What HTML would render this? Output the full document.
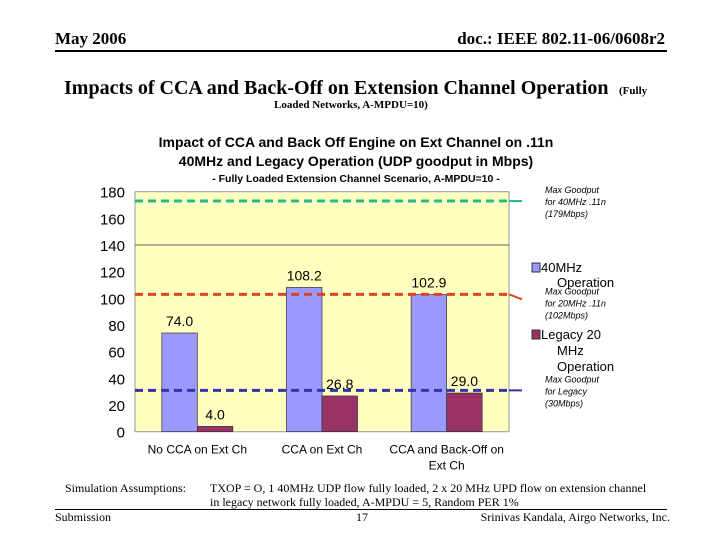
<!DOCTYPE html>
<html><head><meta charset="utf-8"><style>
body{margin:0;width:720px;height:540px;background:#fff;position:relative;overflow:hidden;font-family:"Liberation Serif",serif}
.a{position:absolute;white-space:nowrap}
</style></head><body>
<div class="a" style="left:55px;top:29px;font-size:17px;font-weight:bold">May 2006</div>
<div class="a" style="right:55px;top:29px;font-size:17px;font-weight:bold">doc.: IEEE 802.11-06/0608r2</div>
<div class="a" style="left:55px;top:50px;width:612px;height:2px;background:#000"></div>
<div class="a" style="left:64px;top:77px;font-size:20px;font-weight:bold">Impacts of CCA and Back-Off on Extension Channel Operation <span style="font-size:11px">&nbsp;&nbsp;(Fully</span></div>
<div class="a" style="left:274px;top:99px;font-size:11px;font-weight:bold">Loaded Networks, A-MPDU=10)</div>
<svg class="a" style="left:0;top:0" width="720" height="540" id="c"></svg>
<div class="a" style="left:65px;top:481px;font-size:12px">Simulation Assumptions:</div>
<div class="a" style="left:210px;top:481px;font-size:12px;line-height:14px">TXOP = O, 1 40MHz UDP flow fully loaded, 2 x 20 MHz UPD flow on extension channel<br>in legacy network fully loaded, A-MPDU = 5, Random PER 1%</div>
<div class="a" style="left:55px;top:509px;width:612px;height:1px;background:#000"></div>
<div class="a" style="left:55px;top:510px;font-size:12px">Submission</div>
<div class="a" style="left:356px;top:510px;font-size:12px">17</div>
<div class="a" style="right:50px;top:510px;font-size:12px">Srinivas Kandala, Airgo Networks, Inc.</div>
<script>
const categories=[["No CCA on Ext Ch"],["CCA on Ext Ch"],["CCA and Back-Off on","Ext Ch"]];
const s40=[74.0,108.2,102.9];
const sLeg=[4.0,26.8,29.0];
const yTicks=[0,20,40,60,80,100,120,140,160,180];
const refVals=[173,103,31];
const refColors=["#22bb88","#dd4422","#3333aa"];
const refLabels=[["Max Goodput","for 40MHz .11n","(179Mbps)"],["Max Goodput","for 20MHz .11n","(102Mbps)"],["Max Goodput","for Legacy","(30Mbps)"]];
const L=135,R=509,T=191.7,B=431.7,YMAX=180;
const y=v=>B-(B-T)*v/YMAX;
const cw=(R-L)/categories.length;
const x=i=>L+cw*(i+0.5);
const svg=document.getElementById('c');const NS="http://www.w3.org/2000/svg";
function mk(t,a,txt){const e=document.createElementNS(NS,t);for(const k in a)e.setAttribute(k,a[k]);if(txt!=null)e.textContent=txt;svg.appendChild(e);return e;}
const ff='"Liberation Sans",sans-serif';
let e;
e=mk('rect',{x:L,y:T,width:R-L,height:B-T,fill:'#ffffc0',stroke:'#999'});

e=mk('line',{x1:L,x2:R,y1:y(140),y2:y(140),stroke:'#666'});

yTicks.forEach(v=>{e=mk('text',{x:L-10,y:y(v)+6,'text-anchor':'end','font-family':ff,'font-size':15,fill:'#000'},v);
});
e=mk('text',{x:356,y:147,'text-anchor':'middle','font-family':ff,'font-size':14,'font-weight':'bold'},'Impact of CCA and Back Off Engine on Ext Channel on .11n');

e=mk('text',{x:356,y:166,'text-anchor':'middle','font-family':ff,'font-size':14,'font-weight':'bold'},'40MHz and Legacy Operation  (UDP goodput in Mbps)');

e=mk('text',{x:356,y:182,'text-anchor':'middle','font-family':ff,'font-size':10.5,'font-weight':'bold'},'- Fully Loaded Extension Channel Scenario, A-MPDU=10 -');

const bw=cw*0.285;
categories.forEach((c,i)=>{
 e=mk('rect',{x:x(i)-bw,y:y(s40[i]),width:bw,height:B-y(s40[i]),fill:'#9999ff',stroke:'#333','stroke-width':0.7});
 
 e=mk('rect',{x:x(i),y:y(sLeg[i]),width:bw,height:B-y(sLeg[i]),fill:'#993366',stroke:'#333','stroke-width':0.7});
 
 e=mk('text',{x:x(i)-bw/2,y:y(s40[i])-7,'text-anchor':'middle','font-family':ff,'font-size':14},s40[i].toFixed(1));
 
 e=mk('text',{x:x(i)+bw/2,y:y(sLeg[i])-7,'text-anchor':'middle','font-family':ff,'font-size':14},sLeg[i].toFixed(1));
 
 c.forEach((ln,j)=>{e=mk('text',{x:x(i),y:B+22+j*16,'text-anchor':'middle','font-family':ff,'font-size':12},ln);
 });
});
refVals.forEach((v,k)=>{
 e=mk('line',{x1:L,x2:R,y1:y(v),y2:y(v),stroke:refColors[k],'stroke-width':3,'stroke-dasharray':'8,5'});
 
 e=mk('line',{x1:R,x2:R+13,y1:y(v),y2:y(v)+(k==1?5:0),stroke:refColors[k],'stroke-width':2});
 
 refLabels[k].forEach((ln,j)=>{e=mk('text',{x:545,y:y(v)-8+j*12+(k==1?8:0),'font-family':ff,'font-size':9,'font-style':'italic'},ln);
 });
});
e=mk('rect',{x:532,y:263,width:8,height:9,fill:'#9999ff',stroke:'#333'});

[['40MHz',541,272],['Operation',557,287]].forEach(a=>{e=mk('text',{x:a[1],y:a[2],'font-family':ff,'font-size':13},a[0]);
});
e=mk('rect',{x:532,y:330,width:8,height:9,fill:'#993366',stroke:'#333'});

[['Legacy 20',541,339],['MHz',557,355],['Operation',557,371]].forEach(a=>{e=mk('text',{x:a[1],y:a[2],'font-family':ff,'font-size':13},a[0]);
});
</script>
</body></html>
